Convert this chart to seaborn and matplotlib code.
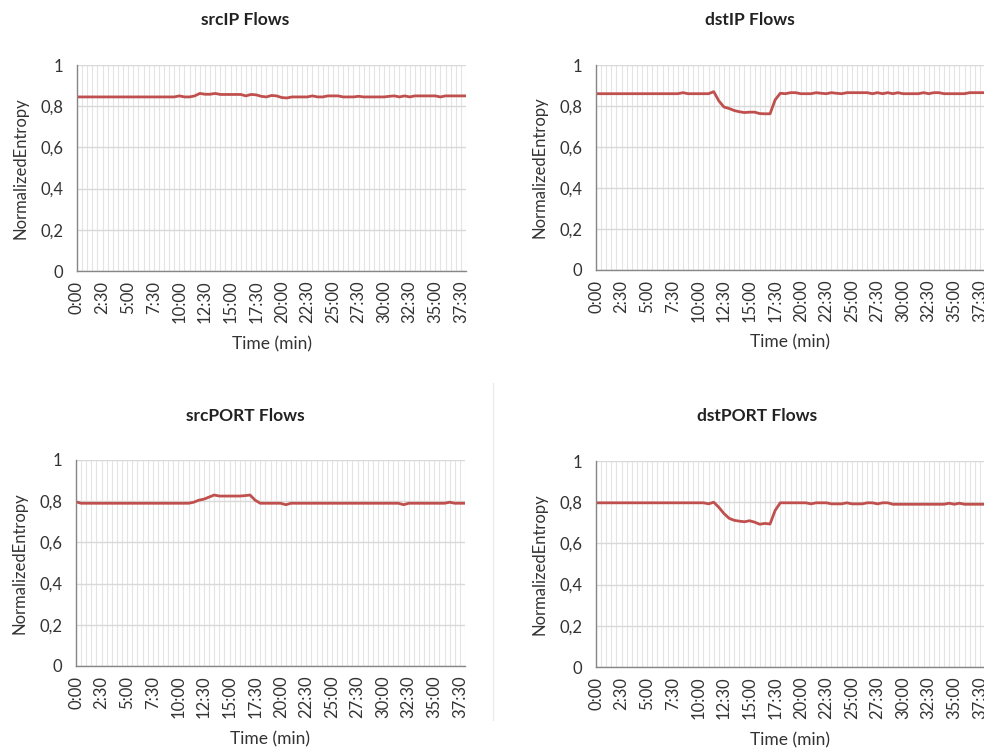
import matplotlib
matplotlib.use("Agg")
import matplotlib.pyplot as plt
from matplotlib.lines import Line2D
import seaborn as sns
import pandas as pd

# 30-second samples from 0:00 to 38:00
time_steps = [f"{i // 2}:{(i % 2) * 30:02d}" for i in range(77)]
tick_labels = ["0:00", "2:30", "5:00", "7:30", "10:00", "12:30", "15:00", "17:30",
               "20:00", "22:30", "25:00", "27:30", "30:00", "32:30", "35:00", "37:30"]
y_ticks = [0, 0.2, 0.4, 0.6, 0.8, 1.0]
y_tick_labels = ["0", "0,2", "0,4", "0,6", "0,8", "1"]

src_ip = ([0.845] * 20 +
          [0.850, 0.845, 0.845, 0.850, 0.862, 0.858, 0.858, 0.862, 0.857, 0.857,
           0.857, 0.857, 0.857, 0.850, 0.857, 0.855, 0.848, 0.845, 0.852, 0.850,
           0.842, 0.840, 0.845, 0.845, 0.845, 0.845, 0.850, 0.845, 0.845, 0.850,
           0.850, 0.850, 0.845, 0.845, 0.845, 0.848, 0.845, 0.845, 0.845, 0.845,
           0.845, 0.848, 0.850, 0.845, 0.850, 0.845, 0.850, 0.850, 0.850, 0.850,
           0.850, 0.845, 0.850, 0.850, 0.850, 0.850, 0.850])

dst_ip = ([0.860] * 17 + [0.865] + [0.860] * 5 +
          [0.870, 0.825, 0.795, 0.788, 0.778, 0.772, 0.768, 0.770, 0.770, 0.763,
           0.762, 0.762, 0.830, 0.862, 0.860, 0.865, 0.865, 0.860, 0.860, 0.860,
           0.865, 0.862, 0.860, 0.865, 0.862, 0.860, 0.865, 0.865, 0.865, 0.865,
           0.865, 0.860, 0.865, 0.860, 0.865, 0.860, 0.865, 0.860, 0.860, 0.860,
           0.860, 0.865, 0.860, 0.865, 0.865, 0.860, 0.860, 0.860, 0.860, 0.860,
           0.865, 0.865, 0.865, 0.865])

src_port = ([0.797] + [0.790] * 22 +
            [0.795, 0.805, 0.810, 0.820, 0.830, 0.825, 0.825, 0.825, 0.825, 0.825,
             0.827, 0.830, 0.805, 0.790] +
            [0.790] * 4 + [0.783] + [0.790] * 22 + [0.783] + [0.790] * 8 +
            [0.795] + [0.790] * 3)

dst_port = ([0.797] * 22 +
            [0.792, 0.800, 0.775, 0.745, 0.722, 0.712, 0.708, 0.705, 0.710, 0.703,
             0.693, 0.697, 0.694, 0.760, 0.797] +
            [0.797] * 5 + [0.792] + [0.797] * 3 + [0.792] * 3 + [0.797] +
            [0.792] * 3 + [0.797, 0.797, 0.792, 0.797, 0.797] + [0.790] * 11 +
            [0.795, 0.790, 0.795] + [0.790] * 5)

titles = ["srcIP Flows", "dstIP Flows", "srcPORT Flows", "dstPORT Flows"]

LINE_RED = "#C0504D"
AXIS_GREY = "#868686"
GRID_GREY = "#D9D9D9"
VGRID_GREY = "#E4E4E4"
TEXT = "#333333"

sns.set_theme(style="white")
plt.rcParams["font.family"] = ["Lato", "DejaVu Sans"]
plt.rcParams["text.color"] = TEXT

W, H = 984, 749
fig = plt.figure(figsize=(W / 100, H / 100), dpi=100)


def px_rect(left, top, right, bottom):
    return [left / W, 1 - bottom / H, (right - left) / W, (bottom - top) / H]


layout = [
    (src_ip, px_rect(77, 65, 466, 271), (245, 20)),
    (dst_ip, px_rect(596, 65, 985, 270), (750, 20)),
    (src_port, px_rect(76, 460, 465, 666), (245, 416)),
    (dst_port, px_rect(596, 461, 985, 667), (757, 416)),
]

for title, (values, rect, (tx, ty)) in zip(titles, layout):
    ax = fig.add_axes(rect)
    df = pd.DataFrame({"step": range(len(time_steps)), "time": time_steps,
                       "entropy": values})
    sns.lineplot(data=df, x="step", y="entropy", ax=ax, color=LINE_RED,
                 linewidth=2.0)
    ax.set_xlim(0, len(time_steps) - 1)
    ax.set_ylim(0, 1)

    ax.set_yticks(y_ticks)
    ax.set_yticklabels(y_tick_labels, fontsize=12, color=TEXT)
    ax.set_xticks(range(0, len(time_steps) - 1, 5))
    ax.set_xticklabels(tick_labels, rotation=90, fontsize=12, color=TEXT)
    ax.set_xticks(range(len(time_steps)), minor=True)

    ax.grid(axis="y", which="major", color=GRID_GREY, linewidth=1.0)
    ax.grid(axis="x", which="both", color=VGRID_GREY, linewidth=0.8)
    ax.set_axisbelow(True)

    ax.tick_params(axis="x", which="both", direction="out", length=5,
                   width=0.8, color=AXIS_GREY, pad=2)
    ax.tick_params(axis="y", which="major", direction="out", length=5,
                   width=0.8, color=AXIS_GREY, pad=5)
    for side in ("top", "right"):
        ax.spines[side].set_visible(False)
    for side in ("left", "bottom"):
        ax.spines[side].set_color(AXIS_GREY)
        ax.spines[side].set_linewidth(1.0)

    ax.set_ylabel("NormalizedEntropy", fontsize=12, color=TEXT)
    ax.yaxis.set_label_coords(-0.125, 0.5)
    ax.set_xlabel("Time (min)", fontsize=12.5, color=TEXT)
    ax.xaxis.set_label_coords(0.5, -0.315)

    fig.text(tx / W, 1 - ty / H, title, ha="center", va="center",
             fontsize=12.5, fontweight="bold", color="#222222")

# faint border between the two lower charts
fig.add_artist(Line2D([493 / W, 493 / W], [1 - 383 / H, 1 - 720 / H],
                      color="#EBEBEB", linewidth=1.0))

fig.savefig("out.png", dpi=100, facecolor="white")
